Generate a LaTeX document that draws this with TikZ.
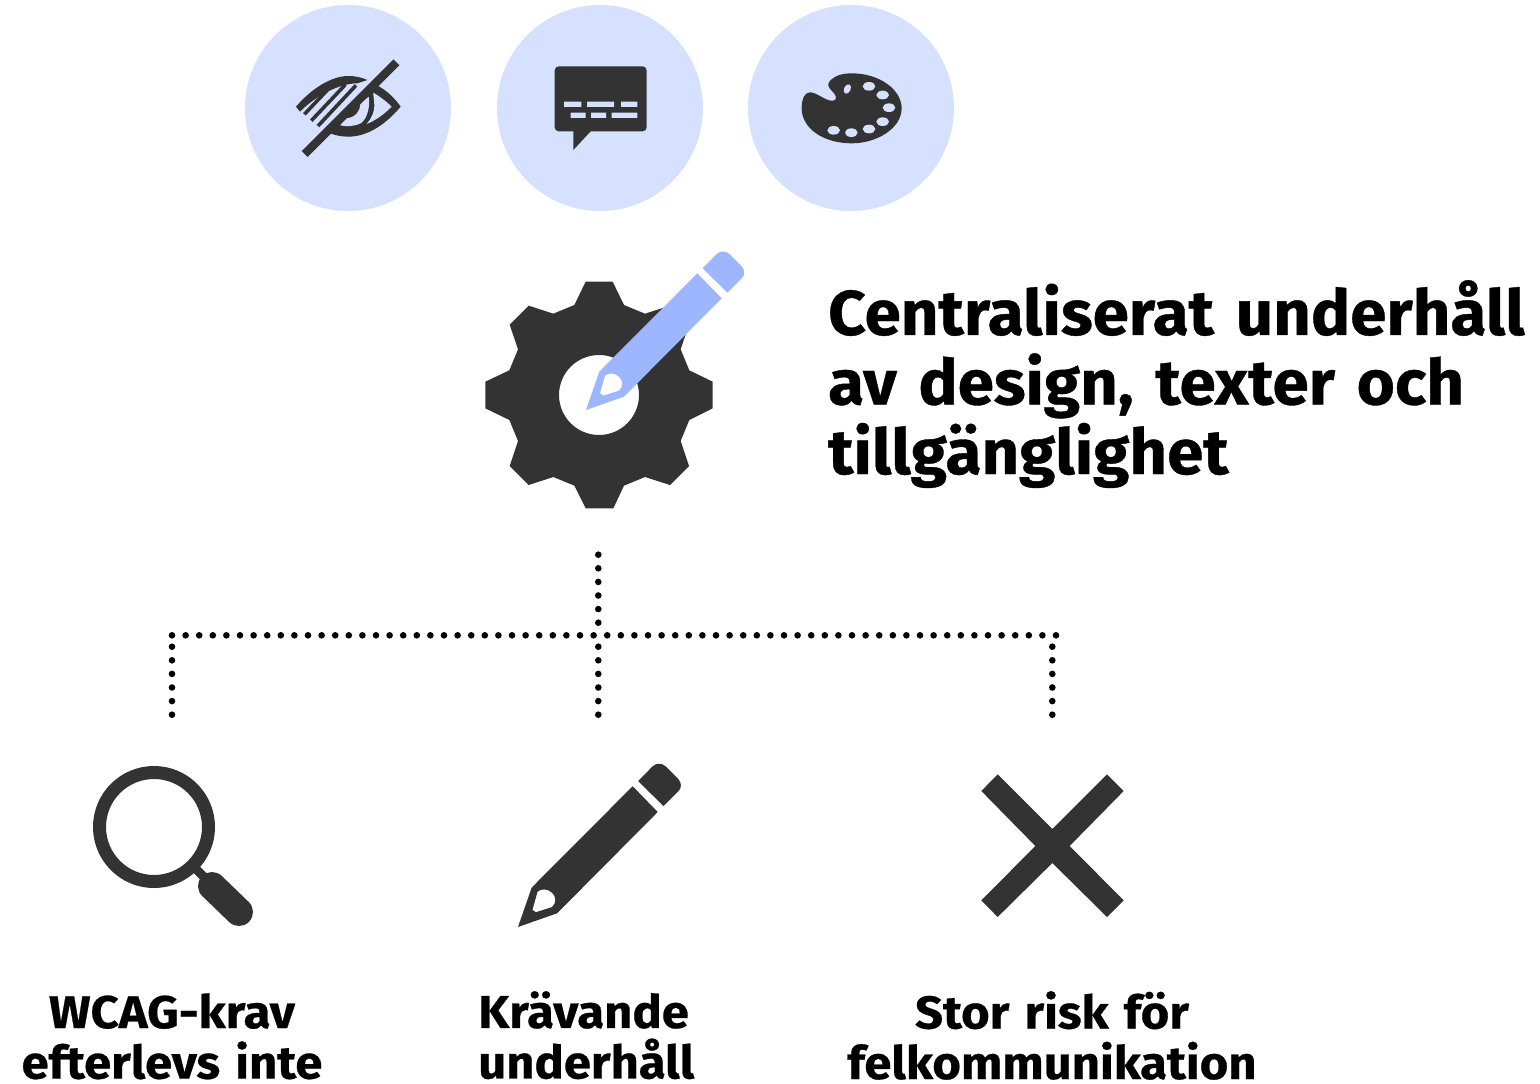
\documentclass[tikz,border=0pt]{standalone}
\usepackage{fontspec}
\setmainfont{Fira Sans}
\newfontfamily\titlef[UprightFont=* Bold,FakeStretch=1.04,FakeBold=0.6,WordSpace=1.4]{Fira Sans}
\newfontfamily\labelf[UprightFont=* Bold,FakeStretch=1.065,FakeBold=0.5,WordSpace=1.3]{Fira Sans}
\definecolor{lightc}{HTML}{D6E0FF}
\definecolor{bluec}{HTML}{9DB6FF}
\definecolor{darkc}{HTML}{333333}
\newcommand\penciltool[4]{%
 \begin{scope}[shift={(#1,#2)},x=#3pt,y=-#3pt,shift={(-348,-510)}]
  \fill[#4,even odd rule] (348,510) -- (388,395) -- (682,100) -- (755,175) -- (462,470) -- cycle
    (405,407) .. controls (415,398) and (435,398) .. (447,410) .. controls (460,422) and (460,440) .. (447,452) -- (400,467) -- (390,460) -- cycle;
  \fill[#4] (698,85) -- (740,42) .. controls (750,32) and (768,32) .. (778,42) -- (815,79) .. controls (825,90) and (825,105) .. (815,115) -- (772,158) -- cycle;
 \end{scope}}
\tikzset{
 disc/.style={circle,fill=lightc,minimum size=206pt,inner sep=0pt},
 dots/.style={line width=6.6pt,line cap=round,dash pattern=on 0pt off 13.6pt,black},
 title/.style={font=\titlef\fontsize{63}{69.6}\selectfont,align=left,inner sep=0pt,text=black},
 label/.style={font=\labelf\fontsize{46}{50.5}\selectfont,inner sep=0pt,text=black},
}
\begin{document}
\begin{tikzpicture}[x=1pt,y=-1pt]
\useasboundingbox (0,0) rectangle (1540,1084);
\node[disc] (c1) at (348,108) {};
\node[disc] (c2) at (600,108) {};
\node[disc] (c3) at (851,108) {};
% eye
\begin{scope}[shift={(240,0)},x=0.33333pt,y=-0.33333pt]
 \fill[darkc,line join=round] (168,320) .. controls (215,265) and (275,228) .. (325,228) .. controls (345,228) and (365,232) .. (382,240) -- (352,250) .. controls (300,250) and (230,285) .. (180,335) -- cycle;
 \draw[darkc,line width=3.6pt] (266,266) -- (193,343) (316,254) -- (214,362) (348,256) -- (234,378);
 \fill[darkc] (415,258) .. controls (440,272) and (465,295) .. (482,320) .. controls (440,370) and (385,410) .. (325,410) .. controls (305,410) and (287,406) .. (270,400) -- cycle;
 \fill[lightc] (400,278) .. controls (420,290) and (440,305) .. (455,320) .. controls (430,345) and (405,362) .. (380,372) .. controls (395,355) and (403,335) .. (403,318) .. controls (403,303) and (400,290) .. cycle;
 \fill[lightc] (386,290) .. controls (390,315) and (385,350) .. (365,368) .. controls (345,380) and (320,380) .. (300,376) -- (320,355) .. controls (345,352) and (362,335) .. (360,310) -- cycle;
 \draw[darkc,line width=8.3pt] (469,187) -- (194,462);
\end{scope}
% speech bubble
\begin{scope}[shift={(240,0)},x=0.33333pt,y=-0.33333pt]
 \fill[darkc,rounded corners=4pt] (944,199) rectangle (1220,394);
 \fill[darkc] (1000,390) -- (1000,450) -- (1052,394) -- (1052,390) -- cycle;
 \fill[lightc] (972,305) rectangle (1024,321) (1041,305) rectangle (1122,321) (1143,305) rectangle (1192,321)
   (992,338) rectangle (1037,354) (1053,338) rectangle (1098,354) (1115,338) rectangle (1192,354);
\end{scope}
% palette
\begin{scope}[shift={(780,60)},x=0.33333pt,y=-0.33333pt]
 \fill[darkc] (148,65) .. controls (165,45) and (190,40) .. (215,40) .. controls (300,40) and (365,90) .. (365,145) .. controls (365,205) and (290,250) .. (215,250) .. controls (130,250) and (65,205) .. (65,145) .. controls (65,115) and (75,97) .. (90,97) .. controls (110,97) and (135,122) .. (155,122) .. controls (175,122) and (170,105) .. (155,92) .. controls (145,82) and (142,75) .. cycle;
 \fill[lightc] (202,87) ellipse [x radius=10,y radius=15,rotate=-25];
 \foreach \px/\py in {267/79,308/105,327/143,308/185,267/207,214/218,161/211}
  \fill[lightc] (\px,\py) ellipse [x radius=19,y radius=13];
\end{scope}
% gear
\begin{scope}[shift={(470,240)},x=0.33333pt,y=-0.33333pt]
 \fill[darkc,even odd rule] (347,125) -- (428,125) -- (462,195) -- (525,221) -- (600,197) -- (657,254) -- (632,328) -- (658,391) -- (728,425) -- (728,505) -- (658,540) -- (632,603) -- (657,678) -- (600,735) -- (525,711) -- (462,737) -- (430,805) -- (347,805) -- (313,737) -- (250,711) -- (176,735) -- (119,678) -- (144,603) -- (118,540) -- (46,505) -- (46,425) -- (118,391) -- (144,328) -- (119,254) -- (176,197) -- (250,221) -- (313,195) -- cycle
  (387,465) circle [radius=120];
\end{scope}
\penciltool{586}{410}{0.33333}{bluec}
% title
\node[title,anchor=north west] (head) at (828,280) {Centraliserat underhåll\\av design, texter och\\tillgänglighet};
% connectors
\coordinate (top) at (598.3,554.7);
\coordinate (junction) at (598.3,622.8);
\coordinate (hl) at (172,635.3);
\coordinate (hr) at (1056.4,635.3);
\coordinate (l1) at (172,646.7);
\coordinate (l2) at (172,715.1);
\coordinate (m1) at (598.3,646.7);
\coordinate (m2) at (598.3,715.1);
\coordinate (r1) at (1052.3,646.7);
\coordinate (r2) at (1052.3,715.1);
\draw[dots] (top) -- (junction);
\draw[dots] (hl) -- (hr);
\draw[dots] (l1) -- (l2);
\draw[dots] (m1) -- (m2);
\draw[dots] (r1) -- (r2);
% magnifier
\draw[darkc,line width=13pt] (154,827) circle [radius=54.5];
\draw[darkc,line width=9pt] (194,867) -- (212,885);
\draw[darkc,line width=28pt,line cap=round] (212,886) -- (239,912);
% pencil
\penciltool{518}{927}{0.3433}{darkc}
% cross
\begin{scope}[shift={(960,620)},x=0.33333pt,y=-0.33333pt]
 \fill[darkc] (113,463) -- (277,627) -- (441,463) -- (491,513) -- (329,678) -- (491,841) -- (441,891) -- (277,729) -- (113,891) -- (64,841) -- (226,678) -- (64,513) -- cycle;
\end{scope}
% labels
\node[label,align=center,anchor=north] (a) at (172,993) {WCAG-krav\\efterlevs inte};
\node[label,align=left,anchor=north west] (b) at (478,991) {Krävande\\underhåll};
\node[label,align=center,anchor=north] (d) at (1052,991) {Stor risk för\\felkommunikation};
\end{tikzpicture}
\end{document}
